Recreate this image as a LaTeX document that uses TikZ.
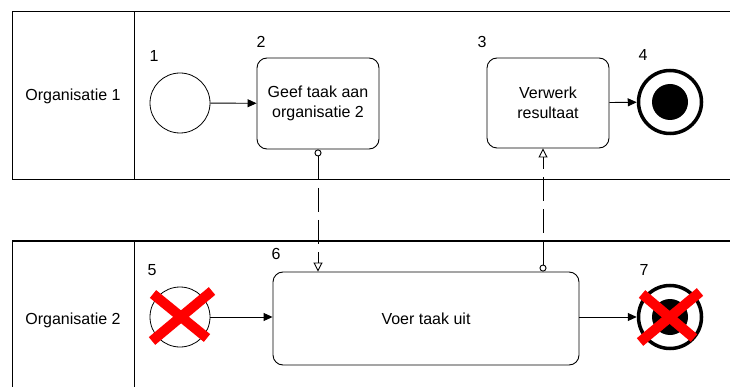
\documentclass[tikz,border=0pt]{standalone}
\usepackage{fontspec}
\setmainfont{Liberation Sans}
\usetikzlibrary{arrows.meta}
\begin{document}
\begin{tikzpicture}[x=1pt,y=-1pt,
  font=\fontsize{16}{20}\selectfont,
  pool/.style={line width=1pt},
  task/.style={draw, rounded corners=10pt, align=center, line width=0.9pt, inner sep=0pt},
  seq/.style={-{Triangle[length=9pt,width=8pt]}, line width=0.9pt},
  msg/.style={{Circle[open,length=7pt,width=7pt]}-{Triangle[open,length=9pt,width=9pt]}, dash pattern=on 24pt off 8pt, line width=0.9pt},
  ev/.style={circle, draw, minimum size=60pt, inner sep=0pt, line width=0.8pt},
  endev/.style={circle, draw, minimum size=63pt, inner sep=0pt, line width=3.5pt},
  dot/.style={circle, fill=black, minimum size=36pt, inner sep=0pt},
  cross/.style={red, line width=10pt},
  num/.style={inner sep=0pt}]
\useasboundingbox (0,0) rectangle (730,387);
\clip (0,0) rectangle (730,387);
% pools
\draw[pool] (12,12) rectangle (750,180);
\draw[pool] (134,12) -- (134,180);
\draw[pool] (12,241) rectangle (750,400);
\draw[pool] (134,241) -- (134,400);
\node (p1) at (73,96) {Organisatie 1};
\node (p2) at (73,320) {Organisatie 2};
% organisation 1
\node[ev] (e1) at (180,103) {};
\node[task, minimum width=122pt, minimum height=91pt] (t2) at (318,103.5) {Geef taak aan\\organisatie 2};
\node[task, minimum width=122pt, minimum height=90pt] (t3) at (548,103) {Verwerk\\resultaat};
\node[endev] (e4) at (670,102) {};
\node[dot] (d4) at (670,102) {};
% organisation 2
\node[ev] (e5) at (180,317) {};
\node[task, minimum width=306pt, minimum height=93pt] (t6) at (426,318.5) {Voer taak uit};
\node[endev] (e7) at (670,317) {};
\node[dot] (d7) at (670,317) {};
% numbers
\node[num] (n1) at (154,56) {1};
\node[num] (n2) at (261,42) {2};
\node[num] (n3) at (482,42) {3};
\node[num] (n4) at (643,55) {4};
\node[num] (n5) at (152,270) {5};
\node[num] (n6) at (276,254) {6};
\node[num] (n7) at (644,270) {7};
% sequence flows
\draw[seq] (e1) -- (t2);
\draw[seq] (t3) -- (e4);
\draw[seq] (e5) -- (t6.west |- e5);
\draw[seq] (t6.east |- e7) -- (e7);
% message flows
\draw[msg] (t2.south) -- (t2.south |- t6.north);
\coordinate (m2) at ([xshift=-5pt]t3.south);
\draw[msg] (m2 |- t6.north) -- (m2);
% red crosses
\draw[cross] (153,294) -- (207,338);
\draw[cross] (212,291) -- (152,341);
\draw[cross] (642,294) -- (694,338);
\draw[cross] (700,292) -- (640,342);
\end{tikzpicture}
\end{document}
